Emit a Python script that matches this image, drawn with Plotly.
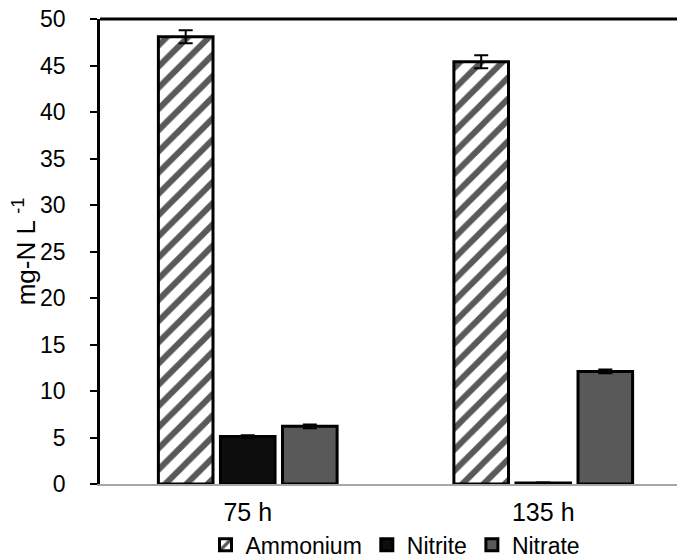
import plotly.graph_objects as go

categories = ["75 h", "135 h"]
ammonium = [48.1, 45.4]
ammonium_err = [0.7, 0.7]
nitrite = [5.1, 0.1]
nitrite_err = [0.15, 0.05]
nitrate = [6.2, 12.1]
nitrate_err = [0.2, 0.2]
y_ticks = [0, 5, 10, 15, 20, 25, 30, 35, 40, 45, 50]

font = "Liberation Sans, Arial, sans-serif"
err_style = dict(type="data", color="black", thickness=2, width=7)
line = dict(color="black", width=3)

fig = go.Figure()
fig.add_trace(go.Bar(
    name="Ammonium", x=categories, y=ammonium,
    error_y=dict(array=ammonium_err, **err_style),
    marker=dict(color="white", line=line,
                pattern=dict(shape="/", fgcolor="#595959", bgcolor="white",
                             fgopacity=1, size=15, solidity=0.4)),
))
fig.add_trace(go.Bar(
    name="Nitrite", x=categories, y=nitrite,
    error_y=dict(array=nitrite_err, **err_style),
    marker=dict(color="#0d0d0d", line=line),
))
fig.add_trace(go.Bar(
    name="Nitrate", x=categories, y=nitrate,
    error_y=dict(array=nitrate_err, **err_style),
    marker=dict(color="#595959", line=line),
))

fig.update_layout(
    width=685, height=559,
    margin=dict(l=92, r=2, t=11, b=83, autoexpand=False),
    paper_bgcolor="white", plot_bgcolor="white",
    barmode="group", bargap=0.37, bargroupgap=0.12,
    font=dict(family=font, size=24, color="black"),
    legend=dict(orientation="h", x=0.5, xanchor="center", y=-0.131, yanchor="middle",
                font=dict(size=23), itemwidth=30, traceorder="normal",
                bgcolor="rgba(0,0,0,0)"),
    xaxis=dict(showline=True, linecolor="#a6a6a6", linewidth=2, ticks="",
               tickfont=dict(size=25), showgrid=False, automargin=False,
               ticklabelstandoff=5),
    yaxis=dict(range=[0, 50], tickvals=y_ticks, showline=True, linecolor="black",
               linewidth=2.5, mirror=True, ticks="outside", ticklen=7, tickwidth=2,
               tickcolor="black", showgrid=False, zeroline=False, automargin=False,
               ticklabeloverflow="allow", ticklabelstandoff=20,
               title=dict(text="mg-N L <sup>-1</sup>", font=dict(size=26), standoff=14),
               tickfont=dict(size=23)),
    shapes=[dict(type="line", xref="paper", yref="paper", x0=0, x1=1, y0=1, y1=1,
                 line=dict(color="black", width=3))],
)

fig.write_html("out.html")
